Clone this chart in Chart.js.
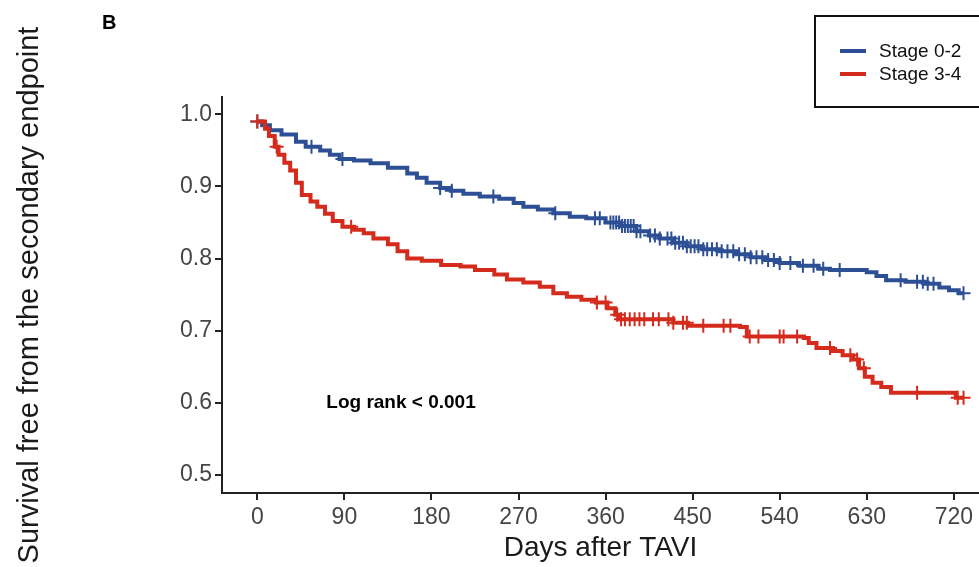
<!DOCTYPE html>
<html>
<head>
<meta charset="utf-8">
<script src="https://cdn.jsdelivr.net/npm/chart.js@4.4.0/dist/chart.umd.min.js"></script>
<style>
  html, body { margin: 0; padding: 0; background: #ffffff; }
  #wrap { width: 979px; height: 567px; position: relative; overflow: hidden; }
</style>
</head>
<body>
<div id="wrap"><canvas id="c" width="979" height="567"></canvas></div>
<script>
// ---- Data ----
const xTicks = [0, 90, 180, 270, 360, 450, 540, 630, 720];
const yTicks = [0.5, 0.6, 0.7, 0.8, 0.9, 1.0];

const seriesNames = ['Stage 0-2', 'Stage 3-4'];

// Stage 0-2 (blue) step curve: days and survival
const blueDays = [0, 5, 13, 25, 40, 50, 65, 75, 85, 100, 117, 135, 155, 165, 175, 189, 200, 213, 230, 250, 265, 275, 290, 306, 323, 340, 360, 375, 392, 405, 416, 430, 444, 460, 478, 495, 510, 525, 540, 560, 580, 592, 630, 640, 650, 670, 690, 705, 715, 725, 730];
const blueSurv = [0.99, 0.985, 0.978, 0.972, 0.962, 0.955, 0.950, 0.944, 0.938, 0.936, 0.932, 0.926, 0.918, 0.912, 0.905, 0.898, 0.894, 0.890, 0.886, 0.883, 0.877, 0.872, 0.868, 0.863, 0.858, 0.856, 0.850, 0.845, 0.838, 0.832, 0.828, 0.822, 0.817, 0.813, 0.810, 0.806, 0.802, 0.798, 0.794, 0.790, 0.786, 0.784, 0.781, 0.776, 0.770, 0.768, 0.765, 0.760, 0.756, 0.752, 0.752];

// Stage 3-4 (red) step curve
const redDays = [0, 8, 12, 18, 22, 28, 34, 40, 46, 55, 62, 70, 78, 88, 100, 110, 120, 135, 145, 155, 170, 190, 210, 225, 245, 258, 275, 292, 306, 320, 335, 350, 362, 370, 375, 400, 430, 445, 499, 506, 565, 570, 578, 595, 605, 616, 622, 628, 636, 645, 655, 722, 730];
const redSurv = [0.99, 0.98, 0.97, 0.955, 0.944, 0.933, 0.922, 0.905, 0.888, 0.879, 0.872, 0.862, 0.852, 0.844, 0.840, 0.835, 0.828, 0.820, 0.810, 0.800, 0.797, 0.791, 0.789, 0.784, 0.778, 0.771, 0.767, 0.761, 0.752, 0.747, 0.743, 0.739, 0.731, 0.722, 0.716, 0.716, 0.711, 0.707, 0.705, 0.692, 0.690, 0.683, 0.676, 0.672, 0.666, 0.660, 0.648, 0.636, 0.628, 0.622, 0.614, 0.607, 0.607];

// Censoring times (plus marks)
const blueCensor = [0, 56, 88, 189, 201, 244, 308, 349, 354, 365, 368, 371, 374, 377, 380, 383, 386, 389, 392, 396, 406, 411, 416, 424, 428, 432, 436, 440, 444, 448, 452, 456, 461, 465, 470, 475, 480, 486, 492, 498, 504, 510, 516, 522, 528, 534, 540, 551, 564, 575, 585, 602, 665, 682, 688, 693, 699, 730];
const redCensor = [0, 20, 97, 351, 360, 372, 376, 380, 385, 390, 395, 400, 409, 415, 425, 430, 440, 444, 461, 482, 489, 509, 518, 540, 544, 558, 592, 613, 620, 627, 682, 724, 730];

const annotationText = 'Log rank < 0.001';
const panelLetter = 'B';
const xTitle = 'Days after TAVI';
const yTitle = 'Survival free from the secondary endpoint';

// ---- Styling ----
const BLUE = '#2C4F95';
const RED = '#D42B1C';
const FONT = '"Liberation Sans", Arial, Helvetica, sans-serif';

function toPoints(days, surv) {
  return days.map((d, i) => ({ x: d, y: surv[i] }));
}
function stepValue(days, surv, t) {
  let v = surv[0];
  for (let i = 0; i < days.length; i++) {
    if (days[i] <= t) v = surv[i]; else break;
  }
  return v;
}
function censorPoints(days, surv, cens) {
  return cens.map(t => ({ x: t, y: stepValue(days, surv, t) }));
}

Chart.defaults.font.family = FONT;

const overlay = {
  id: 'overlay',
  afterDraw(chart) {
    const ctx = chart.ctx;
    ctx.save();
    // panel letter
    ctx.fillStyle = '#000';
    ctx.font = 'bold 20px ' + FONT;
    ctx.textAlign = 'left';
    ctx.textBaseline = 'alphabetic';
    ctx.fillText(panelLetter, 102, 29);

    // annotation
    ctx.font = 'bold 19px ' + FONT;
    ctx.textAlign = 'center';
    ctx.textBaseline = 'middle';
    ctx.fillText(annotationText, 401, 403);

    // legend box
    ctx.strokeStyle = '#111';
    ctx.lineWidth = 2;
    ctx.strokeRect(815, 16, 200, 91);
    const items = chart.data.datasets.filter(d => d.isCurve);
    seriesNames.forEach((name, i) => {
      const ds = items.find(d => d.label === name);
      const y = 51 + i * 23;
      ctx.strokeStyle = ds.borderColor;
      ctx.lineWidth = 4;
      ctx.beginPath();
      ctx.moveTo(840, y);
      ctx.lineTo(866, y);
      ctx.stroke();
      ctx.fillStyle = '#111';
      ctx.font = '19px ' + FONT;
      ctx.textAlign = 'left';
      ctx.textBaseline = 'middle';
      ctx.fillText(ds.label, 879, y + 1);
    });
    ctx.restore();
  }
};

new Chart(document.getElementById('c'), {
  type: 'line',
  data: {
    datasets: [
      {
        label: seriesNames[1], isCurve: true,
        data: toPoints(redDays, redSurv),
        borderColor: RED, backgroundColor: RED,
        borderWidth: 4, stepped: 'before', pointRadius: 0, fill: false, order: 1
      },
      {
        label: seriesNames[1] + ' censored',
        type: 'scatter',
        data: censorPoints(redDays, redSurv, redCensor),
        borderColor: RED, backgroundColor: RED,
        pointStyle: 'cross', pointRadius: 7, borderWidth: 2, order: 0
      },
      {
        label: seriesNames[0], isCurve: true,
        data: toPoints(blueDays, blueSurv),
        borderColor: BLUE, backgroundColor: BLUE,
        borderWidth: 4, stepped: 'before', pointRadius: 0, fill: false, order: 3
      },
      {
        label: seriesNames[0] + ' censored',
        type: 'scatter',
        data: censorPoints(blueDays, blueSurv, blueCensor),
        borderColor: BLUE, backgroundColor: BLUE,
        pointStyle: 'cross', pointRadius: 7, borderWidth: 2, order: 2
      }
    ]
  },
  options: {
    responsive: false,
    animation: false,
    devicePixelRatio: 1,
    layout: { autoPadding: false, padding: { left: 0, right: 0, top: 97, bottom: 0 } },
    plugins: {
      legend: { display: false },
      tooltip: { enabled: false },
      title: { display: false }
    },
    scales: {
      x: {
        type: 'linear',
        min: -36.5, max: 746,
        afterBuildTicks(scale) { scale.ticks = xTicks.map(v => ({ value: v })); },
        afterFit(scale) {
          scale.height = 74;
          scale.paddingRight = 0;
          scale.paddingLeft = 0;
        },
        ticks: {
          color: '#454545',
          font: { size: 23 },
          padding: 4,
          maxRotation: 0,
          autoSkip: false,
          callback: v => String(v)
        },
        grid: { display: true, drawOnChartArea: false, drawTicks: true, tickLength: 7, color: '#222', lineWidth: 2 },
        border: { display: true, color: '#222', width: 2 },
        title: { display: true, text: xTitle, color: '#1a1a1a', font: { size: 28 }, padding: { top: 0, bottom: 2 } }
      },
      y: {
        type: 'linear',
        min: 0.475, max: 1.024,
        afterBuildTicks(scale) { scale.ticks = yTicks.map(v => ({ value: v })); },
        afterFit(scale) {
          scale.width = 222;
          scale.paddingTop = 0;
          scale.paddingBottom = 0;
        },
        ticks: {
          color: '#454545',
          font: { size: 23 },
          padding: 3,
          autoSkip: false,
          callback: v => Number(v).toFixed(1)
        },
        grid: { display: true, drawOnChartArea: false, drawTicks: true, tickLength: 7, color: '#222', lineWidth: 2 },
        border: { display: true, color: '#222', width: 2 },
        title: { display: true, text: yTitle, color: '#1a1a1a', font: { size: 29 }, padding: { top: 13, bottom: 0 } }
      }
    }
  },
  plugins: [overlay]
});
</script>
</body>
</html>
